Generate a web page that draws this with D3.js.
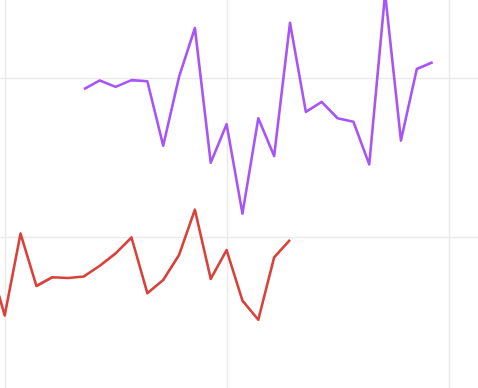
<!DOCTYPE html>
<html>
<head>
<meta charset="utf-8">
<script src="https://cdn.jsdelivr.net/npm/d3@7"></script>
<style>
  html, body { margin: 0; padding: 0; background: #fff; }
  svg { display: block; }
</style>
</head>
<body>
<svg id="chart" width="478" height="388"></svg>
<script>
// data
const redDays = [-1, 0, 1, 2, 3, 4, 5, 6, 7, 8, 9, 10, 11, 12, 13, 14, 15, 16, 17, 18];
const redValues = [17.1, 10.1, 20.4, 13.8, 14.9, 14.8, 15.0, 16.35, 17.9, 19.9, 12.9, 14.55, 17.7, 23.4, 14.7, 18.3, 11.95, 9.55, 17.4, 19.6];

const purpleDays = [5, 6, 7, 8, 9, 10, 11, 12, 13, 14, 15, 16, 17, 18, 19, 20, 21, 22, 23, 24, 25, 26, 27];
const purpleValues = [38.55, 39.65, 38.85, 39.7, 39.55, 31.45, 40.1, 46.25, 29.3, 34.15, 22.9, 34.9, 30.15, 46.9, 35.7, 36.95, 34.9, 34.45, 29.1, 50.6, 32.1, 41.1, 41.95];

const xTicks = [0, 14, 28];
const yTicks = [0, 20, 40, 60];

const width = 478, height = 388;
const svg = d3.select("#chart");

const x = d3.scaleLinear().domain([0, 28]).range([4.7, 448.5]);
const y = d3.scaleLinear().domain([20, 40]).range([236.7, 77.7]);

// grid
svg.append("g")
  .selectAll("line")
  .data(xTicks)
  .enter()
  .append("line")
  .attr("x1", d => Math.round(x(d)) + 0.5)
  .attr("x2", d => Math.round(x(d)) + 0.5)
  .attr("y1", 0)
  .attr("y2", height)
  .attr("stroke", "#ebebeb")
  .attr("stroke-width", 1.5);

svg.append("g")
  .selectAll("line")
  .data(yTicks)
  .enter()
  .append("line")
  .attr("x1", 0)
  .attr("x2", width)
  .attr("y1", d => Math.round(y(d)) + 0.5)
  .attr("y2", d => Math.round(y(d)) + 0.5)
  .attr("stroke", "#ebebeb")
  .attr("stroke-width", 1.5);

const line = d3.line()
  .x(d => x(d[0]))
  .y(d => y(d[1]));

svg.append("path")
  .datum(d3.zip(purpleDays, purpleValues))
  .attr("fill", "none")
  .attr("stroke", "#a855f7")
  .attr("stroke-width", 2.6)
  .attr("stroke-linejoin", "round")
  .attr("d", line);

svg.append("path")
  .datum(d3.zip(redDays, redValues))
  .attr("fill", "none")
  .attr("stroke", "#d8423b")
  .attr("stroke-width", 2.6)
  .attr("stroke-linejoin", "round")
  .attr("d", line);
</script>
</body>
</html>
